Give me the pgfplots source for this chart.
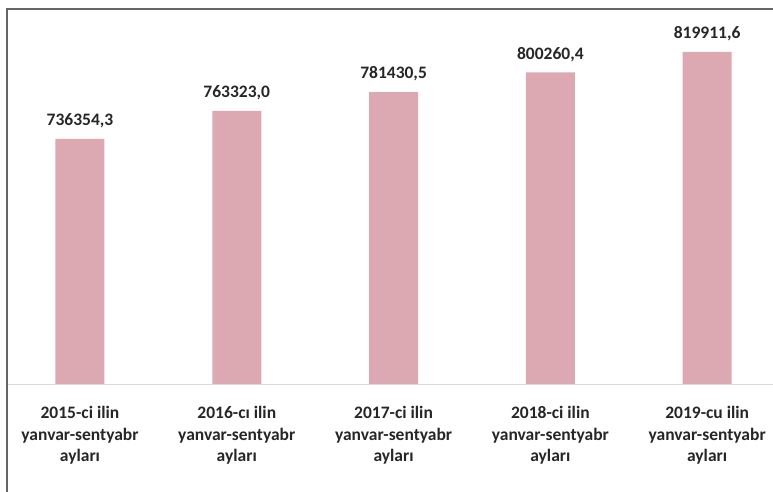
\documentclass[border=0pt]{standalone}
\usepackage{fontspec}
\setmainfont{Carlito}
\usepackage{pgfplots}
\pgfplotsset{compat=1.18}
\definecolor{barc}{RGB}{220,168,178}
\definecolor{basec}{RGB}{214,220,228}
\definecolor{txt}{RGB}{38,38,38}
\begin{document}
\begin{tikzpicture}[x=1pt,y=1pt]
\useasboundingbox (0,0) rectangle (773,492);
\draw[black!60, line width=1.3pt] (7,0) -- (7,483) -- (773,483);
\begin{axis}[
  at={(8pt,107pt)}, anchor=south west,
  scale only axis, width=765pt, height=365pt,
  xmin=-0.459, xmax=4.42, ymin=500000, ymax=850650,
  axis line style={draw=none},
  ytick=\empty,
  xtick=data,
  major tick length=0pt,
  xticklabels={{2015-ci ilin\\yanvar-sentyabr\\ayları},{2016-cı ilin\\yanvar-sentyabr\\ayları},{2017-ci ilin\\yanvar-sentyabr\\ayları},{2018-ci ilin\\yanvar-sentyabr\\ayları},{2019-cu ilin\\yanvar-sentyabr\\ayları}},
  xticklabel style={align=center, font=\fontsize{17.5}{21.5}\selectfont\bfseries, text=txt, yshift=-18pt},
  ybar, bar width=49pt,
  point meta=explicit symbolic,
  nodes near coords,
  every node near coord/.append style={font=\fontsize{17.5}{21}\selectfont\bfseries, text=txt, anchor=center, yshift=18pt},
  clip=false,
]
\addplot[fill=barc, draw=none, bar shift=0pt] table[meta=lab] {
x y lab
0 736354.3 736354,3
1 763323.0 763323,0
2 781430.5 781430,5
3 800260.4 800260,4
4 819911.6 819911,6
};
\draw[basec, line width=1pt] (rel axis cs:0,0) -- (rel axis cs:1,0);
\end{axis}
\end{tikzpicture}
\end{document}
